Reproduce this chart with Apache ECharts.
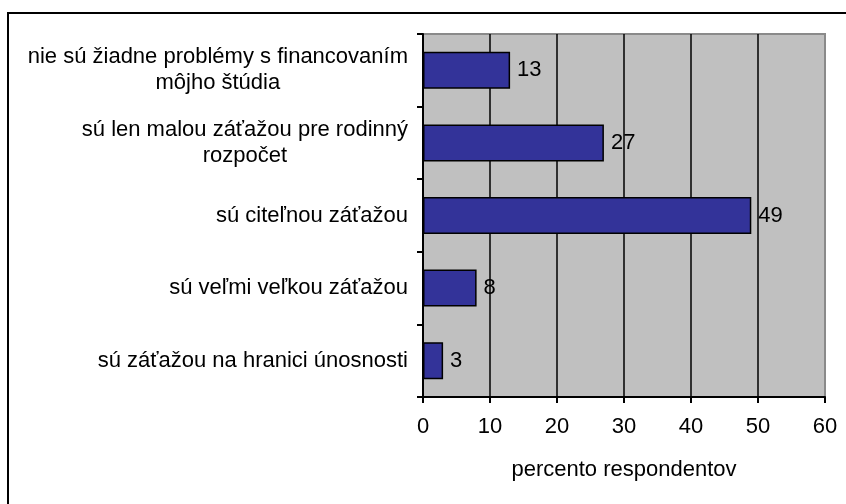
<!DOCTYPE html>
<html>
<head>
<meta charset="utf-8">
<script src="https://cdn.jsdelivr.net/npm/echarts@6/dist/echarts.min.js"></script>
<style>
  html, body { margin: 0; padding: 0; background: #fff; }
  #chart { width: 846px; height: 504px; }
</style>
</head>
<body>
<div id="chart"></div>
<script>
// odpovede (zhora nadol)
var categories = [
    'nie sú žiadne problémy s financovaním\nmôjho štúdia',
    'sú len malou záťažou pre rodinný\nrozpočet',
    'sú citeľnou záťažou',
    'sú veľmi veľkou záťažou',
    'sú záťažou na hranici únosnosti'
];
var values = [13, 27, 49, 8, 3];
var xTicks = [0, 10, 20, 30, 40, 50, 60];

var font = '"Liberation Sans", Arial, sans-serif';
var fs = 22;
var chart = echarts.init(document.getElementById('chart'));

chart.setOption({
    backgroundColor: '#ffffff',
    animation: false,
    textStyle: { fontFamily: font },
    graphic: [{
        type: 'rect',
        shape: { x: 8, y: 13, width: 900, height: 600 },
        style: { fill: 'none', stroke: '#000', lineWidth: 2 },
        silent: true
    }],
    grid: {
        left: 423,
        top: 34,
        right: 21,
        bottom: 107,
        show: true,
        backgroundColor: '#c0c0c0',
        borderColor: '#8a8a8a',
        borderWidth: 2
    },
    xAxis: {
        type: 'value',
        min: xTicks[0],
        max: xTicks[xTicks.length - 1],
        interval: 10,
        name: 'percento respondentov',
        nameLocation: 'middle',
        nameGap: 73,
        nameTextStyle: { color: '#000', fontSize: fs, fontFamily: font, verticalAlign: 'middle' },
        axisLine: { show: true, lineStyle: { color: '#000', width: 2 } },
        axisTick: { show: true, length: 6, lineStyle: { color: '#000', width: 2 } },
        axisLabel: { color: '#000', fontSize: fs, margin: 19, fontFamily: font },
        splitLine: { show: true, showMinLine: false, showMaxLine: false, lineStyle: { color: '#000', width: 1.5 } }
    },
    yAxis: {
        type: 'category',
        inverse: true,
        data: categories,
        axisLine: { show: true, lineStyle: { color: '#000', width: 2 } },
        axisTick: { show: true, length: 6, lineStyle: { color: '#000', width: 2 } },
        axisLabel: {
            color: '#000',
            fontSize: fs,
            fontFamily: font,
            margin: 15,
            lineHeight: 26,
            align: 'right',
            formatter: function (v) {
                return v.split('\n').map(function (s) { return '{c|' + s + '}'; }).join('\n');
            },
            rich: {
                c: { align: 'center', fontSize: fs, lineHeight: 26, color: '#000', fontFamily: font }
            }
        },
        splitLine: { show: false }
    },
    series: [{
        type: 'bar',
        data: values,
        barWidth: '51%',
        itemStyle: { color: '#333399', borderColor: '#000', borderWidth: 1.5 },
        label: {
            show: true,
            position: 'right',
            distance: 7,
            color: '#000',
            fontSize: fs,
            fontFamily: font
        }
    }]
});
</script>
</body>
</html>
